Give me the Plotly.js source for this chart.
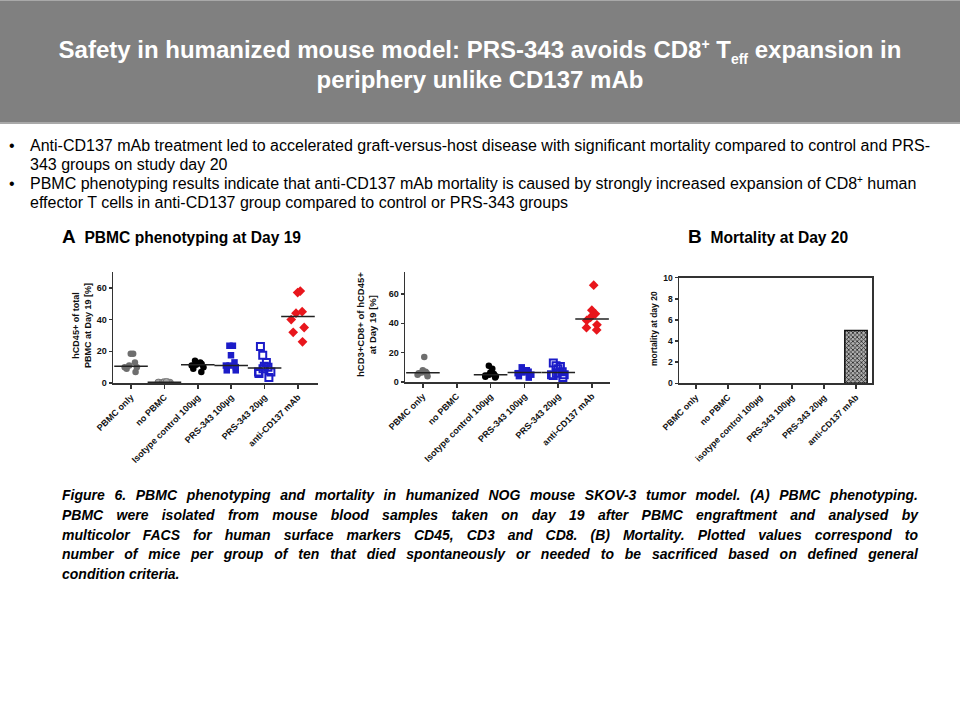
<!DOCTYPE html>
<html>
<head>
<meta charset="utf-8">
<script src="https://cdn.plot.ly/plotly-3.0.1.min.js"></script>
<style>
  body { margin:0; padding:0; background:#fff; }
  #wrap { position:relative; width:960px; height:720px; overflow:hidden; font-family:"Liberation Sans", Arial, sans-serif; }
  #plot { position:absolute; left:0; top:0; width:960px; height:720px; }
  .ov { position:absolute; pointer-events:none; }
  #header { left:0; top:0; width:960px; height:124px; background:#808080; border-top:1px solid #a9a9a9; border-bottom:2px solid #a9a9a9; box-sizing:border-box; color:#fff; font-weight:bold; font-size:24px; line-height:30px; text-align:center; padding-top:34px; }
  #header sup, #header sub { font-size:14px; line-height:0; }
  #bullets { left:0; top:136px; width:960px; font-size:16px; line-height:19px; color:#000; }
  .b { position:relative; padding-left:30px; white-space:nowrap; }
  .b .dot { position:absolute; left:9px; top:0; }
  .b sup { font-size:10px; line-height:0; }
  .sect { font-weight:bold; font-size:15.6px; color:#000; top:227px; line-height:20px; }
  .sect .big { font-size:19px; }
  #caption { left:62px; top:486px; width:856px; font-weight:bold; font-style:italic; font-size:14px; line-height:19.8px; color:#000; }
  #caption .l { text-align:justify; text-align-last:justify; white-space:nowrap; }
  #caption .l.last { text-align-last:left; }
</style>
</head>
<body>
<div id="wrap">
  <div id="plot"></div>
  <div class="ov" id="header">Safety in humanized mouse model: PRS-343 avoids CD8<sup>+</sup> T<sub>eff</sub> expansion in<br>periphery unlike CD137 mAb</div>
  <div class="ov" id="bullets">
    <div class="b"><span class="dot">•</span>Anti-CD137 mAb treatment led to accelerated graft-versus-host disease with significant mortality compared to control and PRS-<br>343 groups on study day 20</div>
    <div class="b"><span class="dot">•</span>PBMC phenotyping results indicate that anti-CD137 mAb mortality is caused by strongly increased expansion of CD8<sup>+</sup> human<br>effector T cells in anti-CD137 group compared to control or PRS-343 groups</div>
  </div>
  <div class="ov sect" style="left:62px;"><span class="big">A</span>&nbsp; PBMC phenotyping at Day 19</div>
  <div class="ov sect" style="left:688px;"><span class="big">B</span>&nbsp; Mortality at Day 20</div>
  <div class="ov" id="caption">
    <div class="l">Figure 6. PBMC phenotyping and mortality in humanized NOG mouse SKOV-3 tumor model. (A) PBMC phenotyping.</div>
    <div class="l">PBMC were isolated from mouse blood samples taken on day 19 after PBMC engraftment and analysed by</div>
    <div class="l">multicolor FACS for human surface markers CD45, CD3 and CD8. (B) Mortality. Plotted values correspond to</div>
    <div class="l">number of mice per group of ten that died spontaneously or needed to be sacrificed based on defined general</div>
    <div class="l last">condition criteria.</div>
  </div>
</div>
<script>
// ---- data ----
const categories = ["PBMC only", "no PBMC", "Isotype control 100µg", "PRS-343 100µg", "PRS-343 20µg", "anti-CD137 mAb"];
const categoriesB = ["PBMC only", "no PBMC", "isotype control 100µg", "PRS-343 100µg", "PRS-343 20µg", "anti-CD137 mAb"];

// hCD45+ of total PBMC at Day 19 [%]
const cd45_pbmcOnly = [18.5, 18.5, 13, 11, 10, 10, 9, 7];
const cd45_noPbmc   = [0.8, 0.6, 0.5, 0.4, 0.4, 0.3, 0.3, 0.2];
const cd45_isotype  = [14, 13, 12.5, 12, 11.5, 11, 10, 9, 7];
const cd45_prs100   = [23.5, 23.5, 17.5, 13, 11, 11, 10, 8, 8];
const cd45_prs20    = [23, 17.5, 13, 10.5, 10, 9, 7, 7, 6, 3.5];
const cd45_anti     = [58, 57, 45, 44, 40, 35, 32, 26];

// hCD3+CD8+ of hCD45+ at Day 19 [%]
const cd8_pbmcOnly = [17, 8, 7, 6.5, 6, 6, 5, 4];
const cd8_isotype  = [11, 9, 6.5, 5.5, 5, 4.5, 4, 3.5, 3];
const cd8_prs100   = [10, 8, 7.5, 7, 6.5, 6, 5, 4, 3];
const cd8_prs20    = [13, 11, 10.5, 9, 7, 6, 5, 5, 4.5, 3];
const cd8_anti     = [66, 49, 46.5, 44, 42, 39, 37, 35.5];

// mortality at day 20
const mortality = [0, 0, 0, 0, 0, 5];

// ---- styles ----
const grey = "#6e6e6e", lightGrey = "#a8a8a8", black = "#000000", blue = "#1c1cc8", red = "#e8161c";

function median(a) {
  const s = a.slice().sort((p, q) => p - q), n = s.length;
  return n % 2 ? s[(n - 1) / 2] : (s[n / 2 - 1] + s[n / 2]) / 2;
}

function strip(vals, cat, marker, xa, ya) {
  return {
    type: "box", x: vals.map(() => cat), y: vals, xaxis: xa, yaxis: ya,
    boxpoints: "all", jitter: 0.75, pointpos: 0, width: 0.7,
    fillcolor: "rgba(0,0,0,0)", line: { width: 0, color: "rgba(0,0,0,0)" },
    marker: marker, hoverinfo: "y", showlegend: false
  };
}
function med(vals, cat, xa, ya) {
  return {
    type: "scatter", mode: "markers", x: [cat], y: [median(vals)], xaxis: xa, yaxis: ya,
    marker: { symbol: "line-ew", size: 24, line: { width: 1.5, color: "#222" } },
    showlegend: false, hoverinfo: "y", cliponaxis: false
  };
}

const mGrey  = { symbol: "circle", size: 6.5, color: grey };
const mLight = { symbol: "circle", size: 6.5, color: lightGrey, line: { width: 1, color: "#777" } };
const mBlack = { symbol: "circle", size: 6.5, color: black };
const mBlueF = { symbol: "square", size: 6.5, color: blue };
const mBlueO = { symbol: "square-open", size: 7, color: blue, line: { width: 2, color: blue } };
const mRed   = { symbol: "diamond", size: 7.5, color: red };

const groupsA = [[cd45_pbmcOnly, 0, mGrey], [cd45_noPbmc, 1, mLight], [cd45_isotype, 2, mBlack], [cd45_prs100, 3, mBlueF], [cd45_prs20, 4, mBlueO], [cd45_anti, 5, mRed]];
const groupsB = [[cd8_pbmcOnly, 0, mGrey], [cd8_isotype, 2, mBlack], [cd8_prs100, 3, mBlueF], [cd8_prs20, 4, mBlueO], [cd8_anti, 5, mRed]];

const traces = [];
groupsA.forEach(g => traces.push(strip(g[0], categories[g[1]], g[2], "x", "y")));
groupsA.forEach(g => traces.push(med(g[0], categories[g[1]], "x", "y")));
groupsB.forEach(g => traces.push(strip(g[0], categories[g[1]], g[2], "x2", "y2")));
groupsB.forEach(g => traces.push(med(g[0], categories[g[1]], "x2", "y2")));
traces.push({
  type: "bar", x: categoriesB, y: mortality, xaxis: "x3", yaxis: "y3", width: 0.7,
  marker: { color: "#9a9a9a", line: { width: mortality.map(v => v > 0 ? 1.5 : 0), color: "#111" },
            pattern: { shape: "x", size: 3, solidity: 0.45, fgcolor: "#222", bgcolor: "#b0b0b0" } },
  showlegend: false
});

const tickFont = { family: "Liberation Sans, Arial", size: 9, color: "#111", weight: "bold" };
const axLine = "#333";
function xax(dom, anchor, cats, extra) {
  return Object.assign({
    domain: dom, anchor: anchor, type: "category", categoryorder: "array", categoryarray: cats,
    showline: true, linecolor: axLine, linewidth: 1.5, ticks: "outside", ticklen: 4, tickwidth: 1.5, tickcolor: axLine,
    tickangle: -45, tickfont: tickFont, showgrid: false, zeroline: false, fixedrange: true
  }, extra || {});
}
function yax(dom, anchor, range, dtick, extra) {
  return Object.assign({
    domain: dom, anchor: anchor, range: range, dtick: dtick, tick0: 0,
    showline: true, linecolor: axLine, linewidth: 1.5, ticks: "outside", ticklen: 3, tickwidth: 1.5, tickcolor: axLine,
    tickfont: tickFont, showgrid: false, zeroline: false, fixedrange: true
  }, extra || {});
}

const layout = {
  width: 960, height: 720, margin: { l: 0, r: 0, t: 0, b: 0 },
  paper_bgcolor: "#ffffff", plot_bgcolor: "rgba(0,0,0,0)", showlegend: false, boxmode: "overlay",
  font: { family: "Liberation Sans, Arial", color: "#111" },
  xaxis:  xax([113/960, 318/960], "y", categories, { range: [-0.54, 5.6] }),
  yaxis:  yax([337/720, 448/720], "x", [0, 70], 20),
  xaxis2: xax([405/960, 610/960], "y2", categories, { range: [-0.53, 5.53] }),
  yaxis2: yax([338/720, 448/720], "x2", [0, 75], 20),
  xaxis3: xax([679/960, 872/960], "y3", categoriesB, { range: [-0.53, 5.5], mirror: true, tickfont: Object.assign({}, tickFont, { size: 8.8 }) }),
  yaxis3: yax([336.7/720, 442.3/720], "x3", [0, 10], 2, { mirror: true, tickfont: Object.assign({}, tickFont, { size: 8.5 }) }),
  annotations: [
    { text: "hCD45+ of total<br>PBMC at Day 19 [%]", xref: "paper", yref: "paper", x: 82/960, y: 394/720, textangle: -90,
      showarrow: false, font: { size: 9, weight: "bold", color: "#111" }, xanchor: "center", yanchor: "middle" },
    { text: "hCD3+CD8+ of hCD45+<br>at Day 19 [%]", xref: "paper", yref: "paper", x: 367/960, y: 395/720, textangle: -90,
      showarrow: false, font: { size: 9.5, weight: "bold", color: "#111" }, xanchor: "center", yanchor: "middle" },
    { text: "mortality at day 20", xref: "paper", yref: "paper", x: 654/960, y: 391/720, textangle: -90,
      showarrow: false, font: { size: 8.5, weight: "bold", color: "#111" }, xanchor: "center", yanchor: "middle" }
  ]
};

Plotly.newPlot("plot", traces, layout, { staticPlot: true, displayModeBar: false });
</script>
</body>
</html>
